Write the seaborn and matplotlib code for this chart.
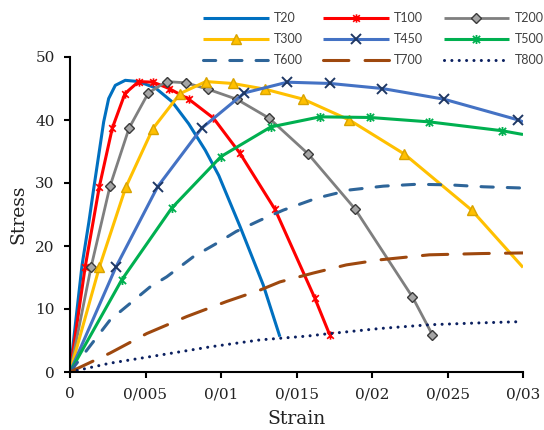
import matplotlib
matplotlib.use("Agg")
import matplotlib.pyplot as plt
import seaborn as sns
from matplotlib.path import Path

# ---------------- data ----------------
strain_T20 = [0, 0.0008, 0.00125, 0.00157, 0.0019, 0.00223, 0.00256, 0.0030, 0.00366,
              0.00455, 0.00565, 0.00676, 0.00786, 0.00896, 0.00985, 0.01126, 0.0128, 0.0139]
stress_T20 = [0, 17.0, 23.8, 29.1, 34.4, 39.7, 43.4, 45.5, 46.3,
              46.1, 45.1, 42.9, 39.4, 35.2, 31.2, 23.1, 13.8, 5.6]

strain_T100 = [0, 0.0010, 0.00194, 0.0028, 0.00364, 0.00455, 0.00551, 0.00656,
               0.00787, 0.0095, 0.01126, 0.01358, 0.0162, 0.0172]
stress_T100 = [0, 16.6, 29.4, 38.7, 44.2, 46.1, 46.0, 45.0,
               43.3, 40.3, 34.7, 25.8, 11.8, 5.9]

strain_T200 = [0, 0.00139, 0.00265, 0.00391, 0.00519, 0.0064, 0.00768, 0.00912,
               0.01104, 0.01318, 0.01578, 0.01887, 0.02268, 0.0240]
stress_T200 = [0, 16.6, 29.5, 38.7, 44.3, 46.1, 45.9, 44.9,
               43.3, 40.3, 34.6, 25.9, 11.9, 5.9]

strain_T300 = [0, 0.00194, 0.00369, 0.00548, 0.00729, 0.0090, 0.01077, 0.0129,
               0.01545, 0.0185, 0.02214, 0.0266, 0.0300]
stress_T300 = [0, 16.6, 29.3, 38.6, 44.2, 46.1, 45.8, 44.9,
               43.3, 40.0, 34.6, 25.7, 16.6]

strain_T450 = [0, 0.00303, 0.0058, 0.00872, 0.01155, 0.01439, 0.01722, 0.02068,
               0.02477, 0.0297, 0.0300]
stress_T450 = [0, 16.6, 29.4, 38.7, 44.3, 46.0, 45.8, 45.0, 43.3, 40.0, 39.7]

strain_T500 = [0, 0.00342, 0.00673, 0.0100, 0.0133, 0.01656, 0.01987, 0.0238,
               0.0286, 0.0300]
stress_T500 = [0, 14.6, 26.0, 34.2, 38.9, 40.5, 40.4, 39.7, 38.3, 37.7]

strain_T600 = [0, 0.00265, 0.0053, 0.0064, 0.00817, 0.0097, 0.0110, 0.0126,
               0.01413, 0.01634, 0.01854, 0.02075, 0.02296, 0.02517, 0.02737, 0.0300]
stress_T600 = [0, 8.25, 13.5, 15.1, 18.3, 20.4, 22.3, 24.1,
               25.7, 27.6, 28.9, 29.5, 29.8, 29.7, 29.4, 29.2]

strain_T700 = [0, 0.00265, 0.00508, 0.00773, 0.01038, 0.01258, 0.0139, 0.0161,
               0.0183, 0.0205, 0.0238, 0.0272, 0.0300]
stress_T700 = [0, 3.0, 6.1, 8.8, 11.2, 13.0, 14.3, 15.7,
               17.0, 17.8, 18.6, 18.8, 18.9]

strain_T800 = [0, 0.00265, 0.0060, 0.0093, 0.0126, 0.0157, 0.0172, 0.0205,
               0.0238, 0.0272, 0.0300]
stress_T800 = [0, 1.4, 2.7, 4.0, 5.1, 5.7, 6.1, 6.9, 7.5, 7.8, 8.0]

x_ticks = [0, 0.005, 0.01, 0.015, 0.02, 0.025, 0.03]
x_tick_labels = ["0", "0/005", "0/01", "0/015", "0/02", "0/025", "0/03"]
y_ticks = [0, 10, 20, 30, 40, 50]

# ---------------- style ----------------
sns.set_theme(style="white")
plt.rcParams["font.family"] = ["DejaVu Serif"]

star = Path([(-1, -1), (1, 1), (-1, 1), (1, -1), (0, -1.25), (0, 1.25)],
            [Path.MOVETO, Path.LINETO, Path.MOVETO, Path.LINETO, Path.MOVETO, Path.LINETO])

fig = plt.figure(figsize=(5.44, 4.30), dpi=100)
ax = fig.add_axes([70 / 544, 1 - 372 / 430, 453 / 544, 315 / 430])

LW = 2.2
series = [
    ("T20", strain_T20, stress_T20, dict(color="#0070C0")),
    ("T100", strain_T100, stress_T100,
     dict(color="#FF0000", marker=star, markersize=6.0, markeredgecolor="#FF0000",
          markerfacecolor="none", markeredgewidth=1.2)),
    ("T200", strain_T200, stress_T200,
     dict(color="#7F7F7F", lw=2.0, marker="D", markersize=5.0, markerfacecolor="#A5A5A5",
          markeredgecolor="#3A3A3A", markeredgewidth=1.0)),
    ("T300", strain_T300, stress_T300,
     dict(color="#FFC000", marker="^", markersize=7.5, markerfacecolor="#FFC000",
          markeredgecolor="#D9A300", markeredgewidth=1.0,
          markevery=list(range(len(strain_T300) - 1)))),
    ("T450", strain_T450, stress_T450,
     dict(color="#4472C4", marker="x", markersize=6.5, markeredgecolor="#1F3864",
          markeredgewidth=1.4, markevery=list(range(len(strain_T450) - 1)))),
    ("T500", strain_T500, stress_T500,
     dict(color="#00B050", marker=star, markersize=6.5, markeredgecolor="#00B050",
          markerfacecolor="none", markeredgewidth=1.3,
          markevery=list(range(len(strain_T500) - 1)))),
    ("T600", strain_T600, stress_T600,
     dict(color="#2E6599", linestyle=(0, (4.0, 4.6)), dash_capstyle="round")),
    ("T700", strain_T700, stress_T700,
     dict(color="#9E480E", linestyle=(0, (8.3, 5.3)), dash_capstyle="round")),
    ("T800", strain_T800, stress_T800,
     dict(color="#0B2060", linestyle=(0, (0.01, 2.4)), dash_capstyle="round")),
]

for name, xs, ys, kw in series:
    kw = dict(kw)
    kw.setdefault("lw", LW)
    kw.setdefault("solid_capstyle", "butt")
    kw.setdefault("solid_joinstyle", "round")
    if "marker" not in kw:
        kw["marker"] = "None"
    sns.lineplot(x=xs, y=ys, ax=ax, label=name, errorbar=None, sort=False, **kw)

ax.set_xlim(0, 0.03)
ax.set_ylim(0, 50)
ax.set_xticks(x_ticks)
ax.set_xticklabels(x_tick_labels)
ax.set_yticks(y_ticks)
for sp in ["top", "right"]:
    ax.spines[sp].set_visible(False)
for sp in ["left", "bottom"]:
    ax.spines[sp].set_color("black")
    ax.spines[sp].set_linewidth(1.5)
ax.tick_params(axis="both", which="major", direction="out", length=4, width=1.5,
               color="black", labelsize=11, pad=7, labelcolor="#222222",
               bottom=True, left=True)
ax.set_xlabel("Strain", fontsize=13.5, labelpad=6, color="#222222")
ax.set_ylabel("Stress", fontsize=13.5, labelpad=6, color="#222222")
ax.grid(False)

handles, labels = ax.get_legend_handles_labels()
if ax.get_legend() is not None:
    ax.get_legend().remove()
order = [0, 3, 6, 1, 4, 7, 2, 5, 8]
leg = fig.legend([handles[i] for i in order], [labels[i] for i in order],
                 ncol=3, loc="upper left", bbox_to_anchor=(203 / 544, 1 - 12 / 430),
                 frameon=False, prop={"family": "Lato", "size": 9.0},
                 handlelength=5.25, handletextpad=0.43, columnspacing=1.62,
                 labelspacing=0.72, borderpad=0, borderaxespad=0, numpoints=1)
for t in leg.get_texts():
    t.set_color("#404040")

fig.savefig("out.png", dpi=100)
